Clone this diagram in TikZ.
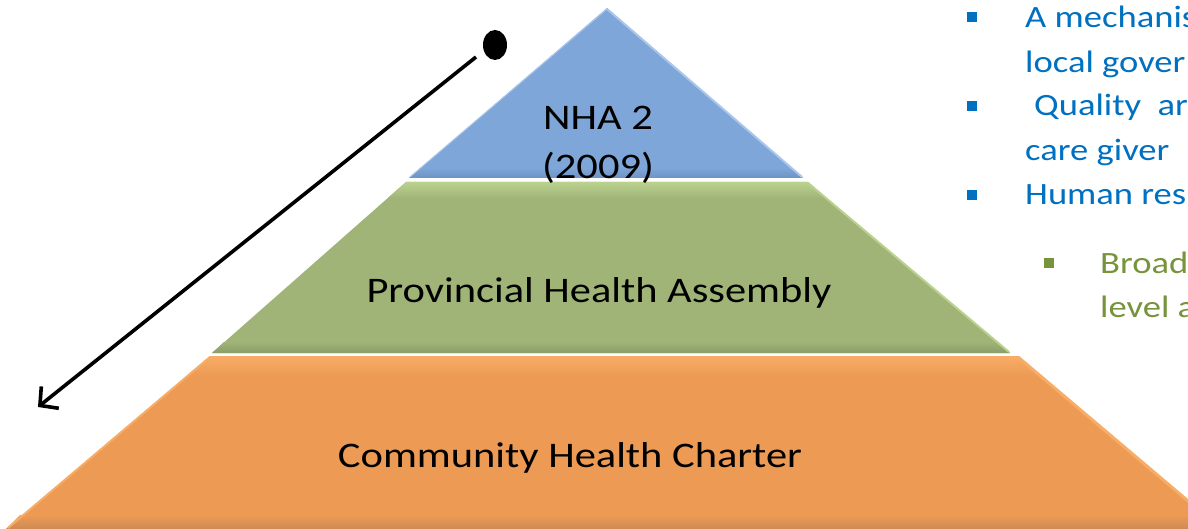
\documentclass[tikz,border=0pt]{standalone}
\usepackage{fontspec}
\setmainfont{Carlito}[FakeStretch=1.18]
\usetikzlibrary{arrows.meta,shapes.geometric}
\definecolor{bluefill}{HTML}{7EA6D8}
\definecolor{bluelight}{HTML}{A9C6EC}
\definecolor{bluedark}{HTML}{6E93C2}
\definecolor{greenfill}{HTML}{A0B478}
\definecolor{greenlight}{HTML}{BBD28E}
\definecolor{greendark}{HTML}{8A9C68}
\definecolor{orfill}{HTML}{EC9A54}
\definecolor{orlight}{HTML}{F8AD66}
\definecolor{ordark}{HTML}{CF8A56}
\definecolor{txtblue}{HTML}{0070C0}
\definecolor{txtgreen}{HTML}{77933C}
\tikzset{
  tierlabel/.style={text=black, font=\fontsize{36}{49}\selectfont, align=center, inner sep=0pt},
  bullettext/.style={anchor=base west, inner sep=0pt, font=\fontsize{31}{38}\selectfont},
  bluebullet/.style={fill=txtblue, minimum size=10pt, inner sep=0pt},
  greenbullet/.style={fill=txtgreen, minimum size=10pt, inner sep=0pt},
  arrowline/.style={line width=3.6pt, -{Straight Barb[length=13pt,width=28pt,line width=3.6pt]}},
}
\begin{document}
\begin{tikzpicture}[x=1pt,y=-1pt]
\useasboundingbox (0,0) rectangle (1188,529);
\clip (0,0) rectangle (1188,529);
% orange tier
\fill[orfill] (210,356) -- (1018,356) -- (1222,529) -- (6,529) -- cycle;
\shade[top color=orlight, bottom color=orfill] (210,356) -- (1018,356) -- (1040,376) -- (188,376) -- cycle;
\shade[top color=orfill, bottom color=ordark] (20,515) -- (1208,515) -- (1222,529) -- (6,529) -- cycle;
\draw[orlight, line width=2pt] (210,357) -- (8,528);
\draw[orlight, line width=3pt] (1018,357) -- (1220,528);
% green tier
\fill[greenfill] (406,182) -- (808,182) -- (1010,353) -- (212,353) -- cycle;
\shade[top color=greenlight, bottom color=greenfill] (406,182) -- (808,182) -- (826,198) -- (388,198) -- cycle;
\shade[top color=greenfill, bottom color=greendark] (224,342) -- (998,342) -- (1010,353) -- (212,353) -- cycle;
\draw[greenlight, line width=2pt] (808,183) -- (1009,352);
% blue tier
\fill[bluefill] (607,8) -- (803,178) -- (409,178) -- cycle;
\shade[top color=bluefill, bottom color=bluedark] (420,168) -- (792,168) -- (803,178) -- (409,178) -- cycle;
\draw[bluelight, line width=2pt] (607,9) -- (802,177);
\draw[bluelight, line width=1pt] (607,9) -- (410,177);
% tier labels
\node[tierlabel, anchor=base] (nha) at (598,179) {NHA 2\\(2009)};
\node[tierlabel, anchor=base] (pha) at (599,302) {Provincial Health Assembly};
\node[tierlabel, anchor=base] (chc) at (570,467) {Community Health Charter};
% arrow with dot
\node[ellipse, fill=black, minimum width=24pt, minimum height=30pt, inner sep=0pt] (dot) at (495,45) {};
\coordinate (astart) at (476,57);
\coordinate (aend) at (38,407);
\draw[arrowline] (astart) -- (aend);
% right side bullet text
\node[bluebullet] (b1) at (972,17) {};
\node[bullettext, text=txtblue] (t1) at (1025,28) {A mechanis};
\node[bullettext, text=txtblue] (t1b) at (1025,73) {local gover};
\node[bluebullet] (b2) at (972,106) {};
\node[bullettext, text=txtblue] (t2) at (1034,116) {Quality\ \ ar};
\node[bullettext, text=txtblue] (t2b) at (1025,161) {care giver};
\node[bluebullet] (b3) at (972,195) {};
\node[bullettext, text=txtblue] (t3) at (1025,205) {Human res};
\node[greenbullet] (b4) at (1049,263) {};
\node[bullettext, text=txtgreen] (t4) at (1100,273) {Broad};
\node[bullettext, text=txtgreen] (t4b) at (1100,317) {level a};
\end{tikzpicture}
\end{document}
